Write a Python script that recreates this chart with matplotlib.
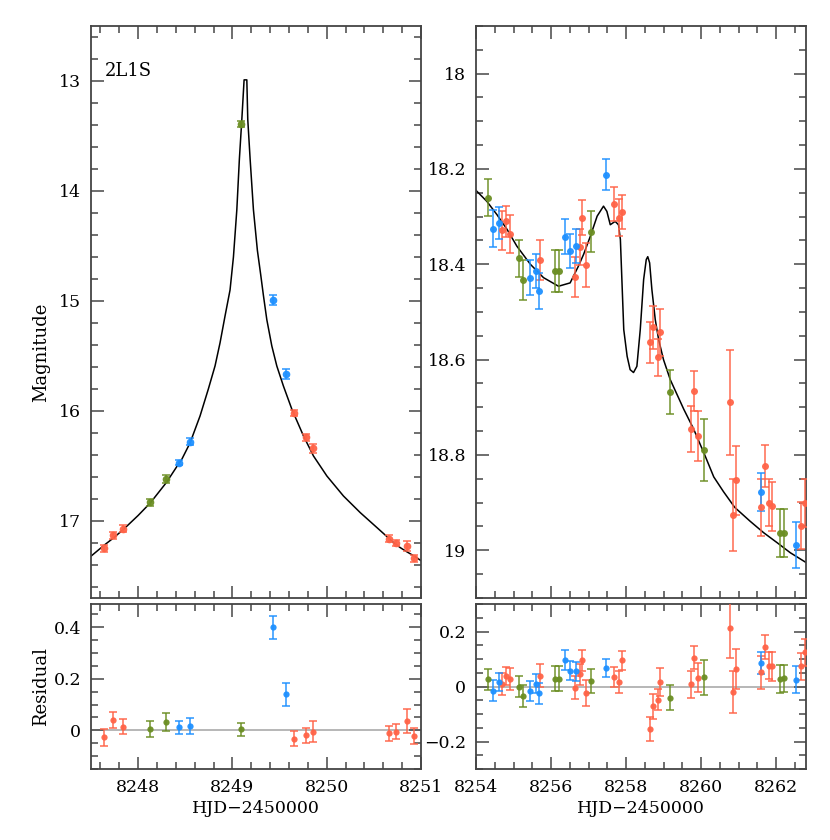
import numpy as np
import matplotlib
matplotlib.use('Agg')
import matplotlib.pyplot as plt
from matplotlib.ticker import MultipleLocator, FuncFormatter

plt.rcParams['font.family'] = 'DejaVu Serif'
plt.rcParams['font.size'] = 12

# ---- left panel (peak) ----
model_l_t = [8247.50, 8247.64, 8247.73, 8247.84, 8248.00, 8248.13, 8248.30, 8248.43,
             8248.463, 8248.551, 8248.657, 8248.745, 8248.816, 8248.869, 8248.922,
             8248.975, 8249.011, 8249.047, 8249.074, 8249.100, 8249.124, 8249.153,
             8249.163, 8249.188, 8249.223, 8249.265, 8249.300, 8249.329, 8249.365,
             8249.418, 8249.471, 8249.541, 8249.631, 8249.754, 8249.860, 8250.002,
             8250.178, 8250.356, 8250.533, 8250.709, 8250.78, 8250.85, 8250.93, 8251.00]
model_l_m = [17.32, 17.22, 17.16, 17.08, 16.95, 16.835, 16.65, 16.48,
             16.44, 16.29, 16.045, 15.80, 15.59, 15.38, 15.136,
             14.90, 14.60, 14.17, 13.71, 13.35, 12.99, 12.99,
             13.35, 13.71, 14.17, 14.54, 14.76, 14.95, 15.17,
             15.409, 15.591, 15.773, 15.985, 16.227, 16.409, 16.591,
             16.773, 16.924, 17.06, 17.196, 17.242, 17.28, 17.32, 17.36]

red_l_t = [8247.64, 8247.73, 8247.84, 8249.65, 8249.78, 8249.85, 8250.66, 8250.73, 8250.85, 8250.93]
red_l_m = [17.25, 17.13, 17.07, 16.02, 16.24, 16.34, 17.16, 17.20, 17.23, 17.34]
red_l_e = [0.032, 0.03, 0.03, 0.03, 0.03, 0.04, 0.03, 0.03, 0.045, 0.03]
red_l_r = [-0.027, 0.040, 0.014, -0.032, -0.019, -0.005, -0.012, -0.005, 0.036, -0.021]

green_l_t = [8248.13, 8248.30, 8249.09]
green_l_m = [16.83, 16.62, 13.39]
green_l_e = [0.03, 0.035, 0.025]
green_l_r = [0.005, 0.032, 0.005]

blue_l_t = [8248.43, 8248.55, 8249.43, 8249.57]
blue_l_m = [16.47, 16.28, 14.99, 15.66]
blue_l_e = [0.025, 0.03, 0.044, 0.045]
blue_l_r = [0.012, 0.017, 0.40, 0.14]

# ---- right panel (anomaly) ----
model_r_t = [8254.00, 8254.29, 8254.56, 8254.83, 8255.09, 8255.45, 8255.80, 8256.20,
             8256.51, 8256.73, 8256.87, 8257.05, 8257.23, 8257.40, 8257.49, 8257.58,
             8257.71, 8257.80, 8257.85, 8257.89, 8257.94, 8258.03, 8258.11, 8258.20,
             8258.29, 8258.38, 8258.47, 8258.54, 8258.58, 8258.63, 8258.69, 8258.78,
             8258.87, 8259.00, 8259.18, 8259.54, 8259.80, 8260.10, 8260.34, 8260.60,
             8260.90, 8261.31, 8261.67, 8262.03, 8262.38, 8262.81]
model_r_m = [18.245, 18.268, 18.296, 18.327, 18.362, 18.400, 18.428, 18.446,
             18.439, 18.404, 18.379, 18.341, 18.299, 18.278, 18.289, 18.317,
             18.310, 18.317, 18.348, 18.432, 18.537, 18.593, 18.621, 18.627,
             18.614, 18.537, 18.432, 18.390, 18.384, 18.397, 18.453, 18.516,
             18.558, 18.600, 18.642, 18.704, 18.745, 18.800, 18.846, 18.877,
             18.910, 18.939, 18.963, 18.984, 19.005, 19.026]

green_r_t = [8254.31, 8255.14, 8255.25, 8256.10, 8256.22, 8257.07, 8259.16, 8260.09, 8262.10, 8262.21]
green_r_m = [18.260, 18.387, 18.433, 18.414, 18.414, 18.332, 18.667, 18.789, 18.964, 18.964]
green_r_e = [0.038, 0.039, 0.041, 0.045, 0.045, 0.043, 0.046, 0.065, 0.05, 0.05]
green_r_r = [0.027, 0.0, -0.034, 0.028, 0.028, 0.021, -0.04, 0.033, 0.027, 0.03]

blue_r_t = [8254.44, 8254.62, 8255.43, 8255.61, 8255.69, 8256.38, 8256.51, 8256.66, 8257.47, 8261.60, 8262.53]
blue_r_m = [18.325, 18.313, 18.428, 18.414, 18.456, 18.342, 18.372, 18.362, 18.212, 18.877, 18.989]
blue_r_e = [0.038, 0.033, 0.036, 0.036, 0.037, 0.037, 0.036, 0.036, 0.032, 0.04, 0.049]
blue_r_r = [-0.015, 0.015, -0.016, 0.011, -0.025, 0.097, 0.058, 0.055, 0.067, 0.085, 0.024]

red_r_t = [8254.70, 8254.80, 8254.91, 8255.70, 8256.63, 8256.76, 8256.83, 8256.93, 8257.68,
           8257.80, 8257.88, 8258.65, 8258.72, 8258.84, 8258.91, 8259.73, 8259.80, 8259.91,
           8260.76, 8260.84, 8260.93, 8261.60, 8261.70, 8261.81, 8261.90, 8262.67, 8262.76]
red_r_m = [18.329, 18.310, 18.337, 18.391, 18.426, 18.363, 18.302, 18.401, 18.274,
           18.302, 18.290, 18.564, 18.532, 18.595, 18.543, 18.746, 18.666, 18.760,
           18.689, 18.926, 18.853, 18.910, 18.823, 18.900, 18.908, 18.948, 18.901]
red_r_e = [0.04, 0.033, 0.04, 0.042, 0.042, 0.038, 0.037, 0.046, 0.036,
           0.039, 0.035, 0.044, 0.045, 0.039, 0.05, 0.048, 0.042, 0.052,
           0.11, 0.076, 0.072, 0.06, 0.044, 0.049, 0.052, 0.049, 0.05]
red_r_r = [0.01, 0.039, 0.027, 0.04, -0.005, 0.045, 0.095, -0.024, 0.035,
           0.017, 0.095, -0.155, -0.072, -0.048, 0.017, 0.008, 0.104, 0.032,
           0.212, -0.021, 0.063, 0.052, 0.145, 0.075, 0.073, 0.073, 0.124]

RED = '#FF6347'
BLUE = '#1E90FF'
GREEN = '#6B8E23'
FRAME = '#444444'


def fmt(v, pos):
    v = round(v, 6) + 0.0
    return ('%g' % v).replace('-', '\u2212')


def style(ax):
    ax.tick_params(which='both', direction='in', top=True, right=True,
                   color='#555555', labelsize=12.5, pad=7)
    ax.tick_params(which='major', length=9, width=1.2)
    ax.tick_params(which='minor', length=5, width=1.2)
    for s in ax.spines.values():
        s.set_color(FRAME)
        s.set_linewidth(1.3)
    ax.yaxis.set_major_formatter(FuncFormatter(fmt))


def points(ax, t, y, e, c, ms=5):
    ax.errorbar(t, y, yerr=e, fmt='o', color=c, ecolor=c, ms=ms, mec='none',
                elinewidth=1.1, capsize=3, capthick=1.1, alpha=0.95, zorder=3)


fig = plt.figure(figsize=(8.3, 8.4), dpi=100)
ax1 = fig.add_axes([0.1096, 0.2881, 0.3976, 0.681])
ax2 = fig.add_axes([0.1096, 0.0845, 0.3976, 0.1964])
ax3 = fig.add_axes([0.5735, 0.2881, 0.3976, 0.681])
ax4 = fig.add_axes([0.5735, 0.0845, 0.3976, 0.1964])

# left top
ax1.plot(model_l_t, model_l_m, color='black', lw=1.1, zorder=2)
points(ax1, red_l_t, red_l_m, red_l_e, RED, 5.5)
points(ax1, green_l_t, green_l_m, green_l_e, GREEN, 5.5)
points(ax1, blue_l_t, blue_l_m, blue_l_e, BLUE, 5.5)
ax1.set_xlim(8247.5, 8251.0)
ax1.set_ylim(17.7, 12.5)
ax1.xaxis.set_major_locator(MultipleLocator(1))
ax1.xaxis.set_minor_locator(MultipleLocator(0.2))
ax1.yaxis.set_major_locator(MultipleLocator(1))
ax1.yaxis.set_minor_locator(MultipleLocator(0.2))
ax1.set_ylabel('Magnitude', fontsize=13)
ax1.yaxis.set_label_coords(-0.125, 0.43)
ax1.text(0.042, 0.912, '2L1S', transform=ax1.transAxes, fontsize=13)
style(ax1)
ax1.set_xticklabels([])

# left bottom
ax2.axhline(0, color='#aaaaaa', lw=1.2, zorder=1)
points(ax2, red_l_t, red_l_r, red_l_e, RED, 4.5)
points(ax2, green_l_t, green_l_r, green_l_e, GREEN, 4.5)
points(ax2, blue_l_t, blue_l_r, blue_l_e, BLUE, 4.5)
ax2.set_xlim(8247.5, 8251.0)
ax2.set_ylim(-0.15, 0.49)
ax2.xaxis.set_major_locator(MultipleLocator(1))
ax2.xaxis.set_minor_locator(MultipleLocator(0.2))
ax2.yaxis.set_major_locator(MultipleLocator(0.2))
ax2.yaxis.set_minor_locator(MultipleLocator(0.05))
ax2.set_xlabel('HJD\u22122450000', fontsize=12.5, labelpad=3)
ax2.set_ylabel('Residual', fontsize=13)
ax2.yaxis.set_label_coords(-0.125, 0.5)
style(ax2)
ax2.xaxis.set_major_formatter(FuncFormatter(fmt))

# right top
ax3.plot(model_r_t, model_r_m, color='black', lw=1.1, zorder=2)
points(ax3, red_r_t, red_r_m, red_r_e, RED)
points(ax3, green_r_t, green_r_m, green_r_e, GREEN)
points(ax3, blue_r_t, blue_r_m, blue_r_e, BLUE)
ax3.set_xlim(8254.0, 8262.8)
ax3.set_ylim(19.1, 17.9)
ax3.xaxis.set_major_locator(MultipleLocator(2))
ax3.xaxis.set_minor_locator(MultipleLocator(0.5))
ax3.yaxis.set_major_locator(MultipleLocator(0.2))
ax3.yaxis.set_minor_locator(MultipleLocator(0.05))
style(ax3)
ax3.set_xticklabels([])

# right bottom
ax4.axhline(0, color='#aaaaaa', lw=1.2, zorder=1)
points(ax4, red_r_t, red_r_r, red_r_e, RED, 4.5)
points(ax4, green_r_t, green_r_r, green_r_e, GREEN, 4.5)
points(ax4, blue_r_t, blue_r_r, blue_r_e, BLUE, 4.5)
ax4.set_xlim(8254.0, 8262.8)
ax4.set_ylim(-0.3, 0.3)
ax4.xaxis.set_major_locator(MultipleLocator(2))
ax4.xaxis.set_minor_locator(MultipleLocator(0.5))
ax4.yaxis.set_major_locator(MultipleLocator(0.2))
ax4.yaxis.set_minor_locator(MultipleLocator(0.05))
ax4.set_xlabel('HJD\u22122450000', fontsize=12.5, labelpad=3)
style(ax4)
ax4.xaxis.set_major_formatter(FuncFormatter(fmt))

fig.savefig('out.png', dpi=100)
